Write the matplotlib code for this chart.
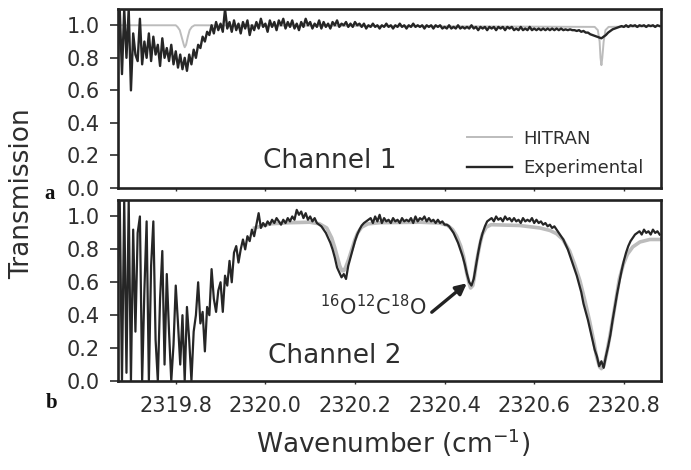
import numpy as np
import matplotlib
matplotlib.use("Agg")
import matplotlib.pyplot as plt

plt.rcParams['font.family'] = ['DejaVu Sans']
plt.rcParams['mathtext.fontset'] = 'dejavusans'

# ---------------- data ----------------
wn_start = 2319.67
wn_step = 0.005

# Channel 1, experimental transmission (uniform grid from wn_start, step wn_step)
exp1 = [0.72, 1.10, 0.70, 1.10, 0.80, 1.10, 0.60, 0.95, 0.82, 0.78,
        1.04, 0.76, 0.90, 0.80, 0.95, 0.78, 0.93, 0.82, 0.88, 0.75,
        0.92, 0.80, 0.86, 0.78, 0.88, 0.76, 0.84, 0.74, 0.82, 0.73,
        0.80, 0.72, 0.82, 0.76, 0.85, 0.80, 0.88, 0.86, 0.93, 0.90,
        0.96, 0.94, 1.00, 0.95, 1.02, 0.97, 1.01, 0.96, 1.10, 0.98,
        1.02, 0.96, 1.03, 0.97, 1.01, 0.95, 1.02, 0.98, 1.03, 0.94,
        1.00, 0.97, 1.02, 0.98, 1.04, 0.99, 1.01, 0.96, 1.03, 0.99,
        1.02, 0.97, 1.03, 1.00, 1.04, 0.98, 1.02, 0.99, 1.03, 0.98,
        1.01, 0.97, 1.02, 0.99, 1.04, 1.00, 1.02, 0.98, 1.01, 0.99,
        1.03, 0.98, 1.02, 0.99, 1.01, 0.98, 1.02, 1.00, 1.03, 0.99,
        1.01, 1.00, 1.02, 0.99, 1.01, 0.99, 1.02, 1.00, 1.01, 0.99,
        1.01, 0.98, 1.00, 0.99, 1.01, 0.99, 1.00, 0.98, 1.00, 0.99,
        1.01, 0.99, 1.00, 0.98, 1.00, 0.99, 1.01, 0.99, 1.00, 0.98,
        1.00, 0.99, 1.01, 0.99, 1.00, 0.99, 1.00, 0.98, 1.00, 0.99,
        1.00, 0.98, 1.00, 0.99, 1.00, 0.98, 0.99, 0.98, 1.00, 0.98,
        0.99, 0.98, 1.00, 0.98, 0.99, 0.98, 0.99, 0.98, 1.00, 0.98,
        0.99, 0.97, 0.99, 0.98, 0.99, 0.97, 0.99, 0.98, 0.99, 0.97,
        0.99, 0.98, 0.99, 0.97, 0.99, 0.98, 0.99, 0.97, 0.98, 0.97,
        0.99, 0.97, 0.98, 0.97, 0.99, 0.97, 0.98, 0.97, 0.98, 0.97,
        0.98, 0.97, 0.98, 0.97, 0.98, 0.97, 0.98, 0.97, 0.98, 0.97,
        0.975, 0.97, 0.975, 0.97, 0.97, 0.965, 0.97, 0.96, 0.965, 0.955,
        0.955, 0.945, 0.94, 0.935, 0.93, 0.925, 0.92, 0.93, 0.94, 0.955,
        0.965, 0.975, 0.98, 0.985, 0.99, 0.995, 0.99, 1.00, 0.99, 1.00,
        0.995, 1.00, 0.99, 1.00, 0.995, 1.00, 0.99, 1.00, 0.995, 1.00,
        0.99, 1.00, 0.995]

# Channel 1, HITRAN simulation
hit1_wn = [2319.672, 2319.800, 2319.804, 2319.809, 2319.813, 2319.818, 2319.820,
           2319.823, 2319.827, 2319.831, 2319.836, 2319.842, 2320.735, 2320.742,
           2320.746, 2320.748, 2320.750, 2320.752, 2320.755, 2320.759, 2320.766,
           2320.883]
hit1_t = [1.00, 1.00, 0.99, 0.97, 0.93, 0.88, 0.865,
          0.88, 0.93, 0.97, 0.99, 1.00, 0.99, 0.97,
          0.90, 0.80, 0.755, 0.80, 0.90, 0.97, 0.99,
          0.995]

# Channel 2, experimental transmission (same grid)
exp2 = [0.62, 1.10, 0.00, 1.10, 0.05, 1.10, 0.00, 0.92, 0.30, 0.90,
        1.00, 0.00, 0.55, 0.97, 0.00, 0.70, 0.97, 0.25, 0.00, 0.50,
        0.79, 0.10, 0.65, 0.30, 0.00, 0.22, 0.58, 0.35, 0.10, 0.40,
        0.00, 0.45, 0.25, 0.00, 0.30, 0.40, 0.60, 0.35, 0.42, 0.18,
        0.45, 0.40, 0.68, 0.50, 0.42, 0.55, 0.60, 0.42, 0.64, 0.58,
        0.73, 0.60, 0.78, 0.82, 0.72, 0.80, 0.86, 0.80, 0.88, 0.85,
        0.92, 0.88, 0.95, 1.02, 0.93, 0.96, 0.94, 0.97, 0.95, 0.98,
        0.96, 0.99, 0.97, 0.95, 0.98, 0.96, 0.99, 0.97, 1.00, 0.98,
        1.04, 1.01, 1.03, 0.99, 1.02, 0.98, 1.00, 0.97, 0.99, 0.96,
        0.95, 0.94, 0.92, 0.90, 0.87, 0.84, 0.80, 0.75, 0.69, 0.66,
        0.63, 0.65, 0.62, 0.70, 0.75, 0.80, 0.85, 0.89, 0.92, 0.945,
        0.96, 0.97, 0.98, 0.99, 0.96, 1.00, 0.97, 1.01, 0.96, 0.99,
        0.97, 0.98, 0.96, 0.99, 0.97, 0.98, 0.96, 0.99, 0.97, 0.98,
        0.97, 0.99, 0.96, 1.00, 0.97, 0.99, 0.98, 1.00, 0.97, 0.99,
        0.97, 0.98, 0.96, 0.98, 0.96, 0.97, 0.95, 0.95, 0.94, 0.92,
        0.90, 0.87, 0.84, 0.80, 0.76, 0.71, 0.65, 0.60, 0.58, 0.62,
        0.70, 0.78, 0.85, 0.90, 0.94, 0.97, 0.98, 0.99, 0.97, 1.00,
        0.98, 0.99, 0.97, 1.00, 0.98, 0.99, 0.97, 0.99, 0.97, 0.98,
        0.96, 0.99, 0.97, 0.98, 0.97, 0.99, 0.96, 0.98, 0.96, 0.97,
        0.95, 0.96, 0.94, 0.95, 0.93, 0.94, 0.92, 0.90, 0.88, 0.86,
        0.83, 0.80, 0.76, 0.72, 0.68, 0.64, 0.59, 0.54, 0.47, 0.42,
        0.37, 0.31, 0.25, 0.19, 0.15, 0.09, 0.12, 0.08, 0.15, 0.21,
        0.28, 0.37, 0.45, 0.53, 0.60, 0.67, 0.73, 0.78, 0.82, 0.85,
        0.87, 0.89, 0.90, 0.91, 0.89, 0.92, 0.90, 0.91, 0.89, 0.92,
        0.90, 0.91, 0.89]

# Channel 2, HITRAN simulation
hit2_wn = [2319.976, 2320.010, 2320.054, 2320.099, 2320.121, 2320.137, 2320.148,
           2320.155, 2320.162, 2320.166, 2320.171, 2320.175, 2320.179, 2320.186,
           2320.193, 2320.200, 2320.206, 2320.215, 2320.229, 2320.255, 2320.345,
           2320.389, 2320.407, 2320.418, 2320.427, 2320.436, 2320.443, 2320.449,
           2320.454, 2320.458, 2320.463, 2320.467, 2320.471, 2320.478, 2320.484,
           2320.493, 2320.504, 2320.568, 2320.613, 2320.635, 2320.650, 2320.664,
           2320.679, 2320.690, 2320.702, 2320.713, 2320.724, 2320.733, 2320.739,
           2320.746, 2320.750, 2320.755, 2320.761, 2320.768, 2320.775, 2320.784,
           2320.790, 2320.799, 2320.808, 2320.820, 2320.836, 2320.858, 2320.883]
hit2_t = [0.93, 0.955, 0.962, 0.965, 0.955, 0.93, 0.87,
          0.81, 0.74, 0.70, 0.67, 0.67, 0.69, 0.74,
          0.80, 0.86, 0.90, 0.935, 0.955, 0.962, 0.965,
          0.96, 0.945, 0.92, 0.88, 0.82, 0.75, 0.66,
          0.60, 0.565, 0.58, 0.64, 0.72, 0.82, 0.89,
          0.935, 0.95, 0.945, 0.93, 0.915, 0.895, 0.86,
          0.79, 0.71, 0.61, 0.49, 0.36, 0.24, 0.15,
          0.085, 0.075, 0.09, 0.16, 0.26, 0.37, 0.52,
          0.62, 0.71, 0.77, 0.815, 0.845, 0.86, 0.86]

x_ticks = [2319.8, 2320.0, 2320.2, 2320.4, 2320.6, 2320.8]
y_ticks = [0.0, 0.2, 0.4, 0.6, 0.8, 1.0]
legend_labels = ["HITRAN", "Experimental"]
channel_labels = ["Channel 1", "Channel 2"]
isotope_label = r"$^{16}$O$^{12}$C$^{18}$O"

# ---------------- figure ----------------
W, H = 691, 470
fig = plt.figure(figsize=(W / 100, H / 100), dpi=100)
left, right = 117.5, 661
ax1 = fig.add_axes([left / W, 1 - 188 / H, (right - left) / W, (188 - 9) / H])
ax2 = fig.add_axes([left / W, 1 - 381 / H, (right - left) / W, (381 - 200) / H])

txt = '#2e2e2e'
exp_col = '#262626'
hit_col = '#bcbcbc'

wn1 = wn_start + wn_step * np.arange(len(exp1))
wn2 = wn_start + wn_step * np.arange(len(exp2))

h1, = ax1.plot(hit1_wn, hit1_t, color=hit_col, lw=1.4, label=legend_labels[0], zorder=2)
e1, = ax1.plot(wn1, exp1, color=exp_col, lw=1.7, label=legend_labels[1], zorder=3)
ax2.plot(hit2_wn, hit2_t, color=hit_col, lw=2.6, zorder=2, solid_joinstyle='round')
ax2.plot(wn2, exp2, color=exp_col, lw=1.6, zorder=3)

for ax in (ax1, ax2):
    ax.set_xlim(2319.67, 2320.883)
    ax.set_ylim(0, 1.1)
    ax.set_yticks(y_ticks)
    ax.set_yticklabels([f"{v:.1f}" for v in y_ticks])
    ax.set_xticks(x_ticks)
    ax.tick_params(axis='y', direction='out', length=6, width=1.2, pad=7,
                   labelsize=15, colors=txt)
    ax.tick_params(axis='x', direction='out', length=2.5, width=1.0, pad=8,
                   labelsize=15, colors=txt)
    for s in ax.spines.values():
        s.set_linewidth(1.9)
        s.set_color('#222222')

ax1.tick_params(axis='x', labelbottom=False)
ax2.set_xticklabels([f"{v:.1f}" for v in x_ticks])

ax1.text(2319.994, 0.12, channel_labels[0], fontsize=19, color=txt, va='baseline')
ax2.text(2320.005, 0.11, channel_labels[1], fontsize=19, color=txt, va='baseline')
ax2.text(2320.121, 0.40, isotope_label, fontsize=15, color=txt, va='baseline')
ax2.annotate('', xy=(2320.4496, 0.594), xytext=(2320.3714, 0.418),
             arrowprops=dict(arrowstyle='-|>', color='#222222', lw=2.4,
                             mutation_scale=16, shrinkA=0, shrinkB=0))

leg = ax1.legend(handles=[h1, e1], loc='lower left', bbox_to_anchor=(0.643, 0.06),
                 frameon=False, fontsize=13, handlelength=2.5, handletextpad=0.6,
                 labelspacing=0.65, borderpad=0, borderaxespad=0)
for t in leg.get_texts():
    t.set_color(txt)

fig.text(22 / W, 1 - 194 / H, 'Transmission', rotation=90, fontsize=19,
         color=txt, ha='center', va='center')
fig.text(393 / W, 1 - 453 / H, 'Wavenumber (cm$^{-1}$)', fontsize=19,
         color=txt, ha='center', va='baseline')
fig.text(50 / W, 1 - 194 / H, 'a', family='Liberation Serif', weight='bold',
         fontsize=15, color='#111111', ha='center', va='center')
fig.text(52 / W, 1 - 403 / H, 'b', family='Liberation Serif', weight='bold',
         fontsize=15, color='#111111', ha='center', va='center')

fig.savefig('out.png', dpi=100)
